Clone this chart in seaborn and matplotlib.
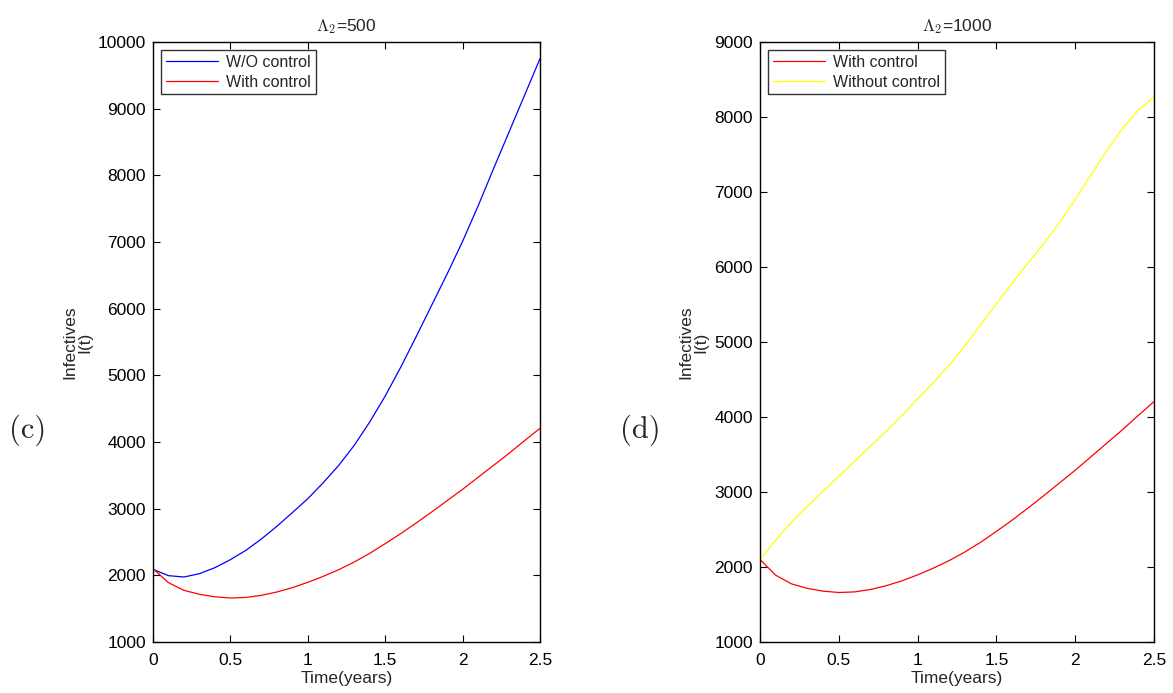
import numpy as np
import pandas as pd
import matplotlib
matplotlib.use("Agg")
import matplotlib.pyplot as plt
import seaborn as sns

# Tiempo (años)
t = [0.0, 0.1, 0.2, 0.3, 0.4, 0.5, 0.6, 0.7, 0.8, 0.9, 1.0, 1.1, 1.2,
     1.3, 1.4, 1.5, 1.6, 1.7, 1.8, 1.9, 2.0, 2.1, 2.2, 2.3, 2.4, 2.5]

# Panel (c): Lambda_2 = 500
wo_control_500 = [2090, 1995, 1975, 2025, 2115, 2235, 2375, 2545, 2735, 2940,
                  3150, 3390, 3650, 3950, 4300, 4690, 5120, 5580, 6050, 6520,
                  7010, 7540, 8100, 8650, 9200, 9750]
with_control = [2100, 1890, 1775, 1715, 1678, 1660, 1668, 1700, 1750, 1815,
                1895, 1985, 2085, 2200, 2330, 2475, 2625, 2785, 2950, 3120,
                3290, 3470, 3650, 3830, 4020, 4205]

# Panel (d): Lambda_2 = 1000
without_control_1000 = [2100, 2360, 2600, 2810, 3010, 3210, 3410, 3610, 3810, 4020,
                        4240, 4460, 4690, 4950, 5230, 5510, 5780, 6050, 6310, 6590,
                        6900, 7230, 7550, 7850, 8090, 8270]

sns.set_style("white")
plt.rcParams['font.family'] = ['Liberation Sans', 'DejaVu Sans']
plt.rcParams['mathtext.fontset'] = 'cm'

fig = plt.figure(figsize=(11.73, 6.93), dpi=100)
ax1 = fig.add_axes([153 / 1173, 51 / 693, 387 / 1173, 600 / 693])
ax2 = fig.add_axes([760 / 1173, 51 / 693, 394 / 1173, 600 / 693])

df_c = pd.DataFrame({"t": t, "W/O control": wo_control_500, "With control": with_control})
df_d = pd.DataFrame({"t": t, "With control": with_control, "Without control": without_control_1000})

sns.lineplot(data=df_c, x="t", y="W/O control", ax=ax1, color="#0000ff", lw=0.9, label="W/O control")
sns.lineplot(data=df_c, x="t", y="With control", ax=ax1, color="#ff0000", lw=0.9, label="With control")
sns.lineplot(data=df_d, x="t", y="With control", ax=ax2, color="#ff0000", lw=0.9, label="With control")
sns.lineplot(data=df_d, x="t", y="Without control", ax=ax2, color="#ffff00", lw=0.9, label="Without control")

for ax, ymax, title in [(ax1, 10000, r'$\Lambda$$_2$=500'), (ax2, 9000, r'$\Lambda$$_2$=1000')]:
    ax.set_xlim(0, 2.5)
    ax.set_ylim(1000, ymax)
    ax.set_xticks([0, 0.5, 1, 1.5, 2, 2.5])
    ax.set_xticklabels(["0", "0.5", "1", "1.5", "2", "2.5"])
    ax.set_yticks(np.arange(1000, ymax + 1, 1000))
    ax.tick_params(direction="in", length=5, width=0.8, top=True, right=True,
                   bottom=True, left=True, labelsize=12.5, pad=5, colors="black")
    ax.tick_params(axis="x", pad=8)
    for s in ax.spines.values():
        s.set_visible(True)
        s.set_color("black")
        s.set_linewidth(1.0)
    ax.set_xlabel("Time(years)", fontsize=12.5, labelpad=2)
    ax.set_ylabel("Infectives\nI(t)", fontsize=12.5, labelpad=4, linespacing=1.0)
    ax.set_title(title, fontsize=12.5, pad=8)
    leg = ax.legend(loc="upper left", fontsize=11.5, frameon=True, fancybox=False,
                    handlelength=3.3, borderpad=0.3, labelspacing=0.3,
                    borderaxespad=0.5, handletextpad=0.5)
    leg.get_frame().set_edgecolor("black")
    leg.get_frame().set_linewidth(1.0)

fig.text(28 / 1173, 1 - 430 / 693, "(c)", fontsize=22, family="cmr10",
         ha="center", va="center")
fig.text(640 / 1173, 1 - 430 / 693, "(d)", fontsize=22, family="cmr10",
         ha="center", va="center")

fig.savefig("out.png", dpi=100, facecolor="white")
